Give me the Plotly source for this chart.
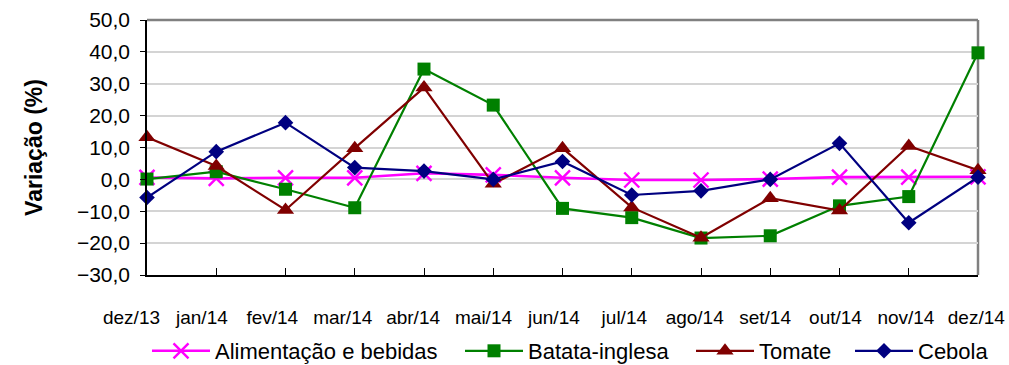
import plotly.graph_objects as go

# Monthly price change (%) by item
meses = ["dez/13", "jan/14", "fev/14", "mar/14", "abr/14", "mai/14", "jun/14",
         "jul/14", "ago/14", "set/14", "out/14", "nov/14", "dez/14"]

alimentacao = [0.6, 0.3, 0.5, 0.5, 1.9, 1.4, 0.5, -0.2, -0.2, 0.1, 0.7, 0.7, 0.8]
batata = [0.1, 2.4, -3.1, -8.9, 34.6, 23.3, -9.1, -12.0, -18.4, -17.7, -8.3, -5.4, 39.7]
tomate = [13.2, 4.2, -9.6, 9.8, 28.8, -1.4, 9.8, -8.8, -18.3, -5.9, -9.8, 10.5, 2.9]
cebola = [-5.7, 8.7, 17.8, 3.7, 2.6, 0.0, 5.6, -4.9, -3.6, 0.0, 11.3, -13.6, 0.7]

y_ticks = [50, 40, 30, 20, 10, 0, -10, -20, -30]

FONT = "Liberation Sans, Arial, sans-serif"
idx = list(range(len(meses)))

# pixel geometry of the figure and plotting area
L, R, T, B = 100, 0, 20, 90
W, H = 1009, 365
paper_w = W - L - R
paper_h = H - T - B
x0, x1 = (147 - L) / paper_w, (978 - L) / paper_w

# each legend entry gets its own legend box, placed along one row
legend_px = [147, 460, 691, 850]
legend_names = ["legend", "legend2", "legend3", "legend4"]

series = [
    ("Alimentação e bebidas", alimentacao, "#FF00FF", "x-thin", 15, 2.6),
    ("Batata-inglesa", batata, "#008000", "square", 13, 2.2),
    ("Tomate", tomate, "#800000", "triangle-up", 15, 2.2),
    ("Cebola", cebola, "#000080", "diamond", 12, 2.2),
]

fig = go.Figure()
for (name, vals, color, symbol, size, lw), lg in zip(series, legend_names):
    marker = dict(symbol=symbol, size=size, color=color)
    if symbol == "x-thin":
        marker["line"] = dict(color=color, width=2.4)
    fig.add_trace(go.Scatter(
        x=idx, y=vals, name=name, mode="lines+markers",
        line=dict(color=color, width=lw), marker=marker,
        cliponaxis=False, legend=lg,
    ))

# carrier trace so the month-label axis is drawn
fig.add_trace(go.Scatter(
    x=idx, y=[None] * len(idx), xaxis="x2", yaxis="y2",
    mode="markers", showlegend=False, hoverinfo="skip",
))

# month labels sit on a second axis with its own spacing
lab_start, lab_step = 131.5, 70.4
x2_lo = (L - lab_start) / lab_step
x2_hi = (W - R - lab_start) / lab_step

legend_y = -(351 - (H - B)) / paper_h
legend_common = dict(
    orientation="h", xanchor="left", y=legend_y, yanchor="middle",
    font=dict(family=FONT, size=22, color="black"),
    itemwidth=58, bgcolor="rgba(0,0,0,0)",
)
legends = {}
for lg, px in zip(legend_names, legend_px):
    legends[lg] = dict(legend_common, x=(px - L) / paper_w)

fig.update_layout(
    width=W, height=H,
    margin=dict(l=L, r=R, t=T, b=B, autoexpand=False),
    paper_bgcolor="white", plot_bgcolor="rgba(0,0,0,0)",
    separators=",.",
    showlegend=True,
    **legends,
    xaxis=dict(
        domain=[x0, x1], range=[0, 12], tickvals=idx, showticklabels=False,
        ticks="inside", ticklen=7, tickcolor="black", tickwidth=1,
        showline=True, linecolor="black", linewidth=1.5,
        showgrid=False, zeroline=False, fixedrange=True,
    ),
    xaxis2=dict(
        domain=[0, 1], range=[x2_lo, x2_hi], anchor="y2",
        tickvals=idx, ticktext=meses, ticks="", showline=False,
        showgrid=False, zeroline=False, ticklabelstandoff=29, fixedrange=True,
        tickfont=dict(family=FONT, size=19, color="black"),
    ),
    yaxis2=dict(
        domain=[0, 1], range=[0, 1], anchor="x2", visible=False,
        showgrid=False, zeroline=False, fixedrange=True,
    ),
    yaxis=dict(
        range=[-30, 50], tickvals=y_ticks, tickformat=".1f",
        ticks="outside", ticklen=5, tickcolor="black",
        showline=True, linecolor="black", linewidth=1.5,
        showgrid=True, gridcolor="#D4D4D4", gridwidth=1.5,
        zeroline=False, fixedrange=True, ticklabelstandoff=6,
        tickfont=dict(family=FONT, size=21, color="black"),
        title=dict(text="<b>Variação (%)</b>", standoff=28,
                   font=dict(family=FONT, size=23, color="black")),
    ),
    shapes=[
        dict(type="line", xref="x domain", yref="y domain", x0=0, x1=1, y0=1, y1=1,
             line=dict(color="#808080", width=2.5), layer="below"),
        dict(type="line", xref="x domain", yref="y domain", x0=1, x1=1, y0=0, y1=1,
             line=dict(color="#808080", width=2.5), layer="below"),
    ],
)

fig.write_html("out.html")
